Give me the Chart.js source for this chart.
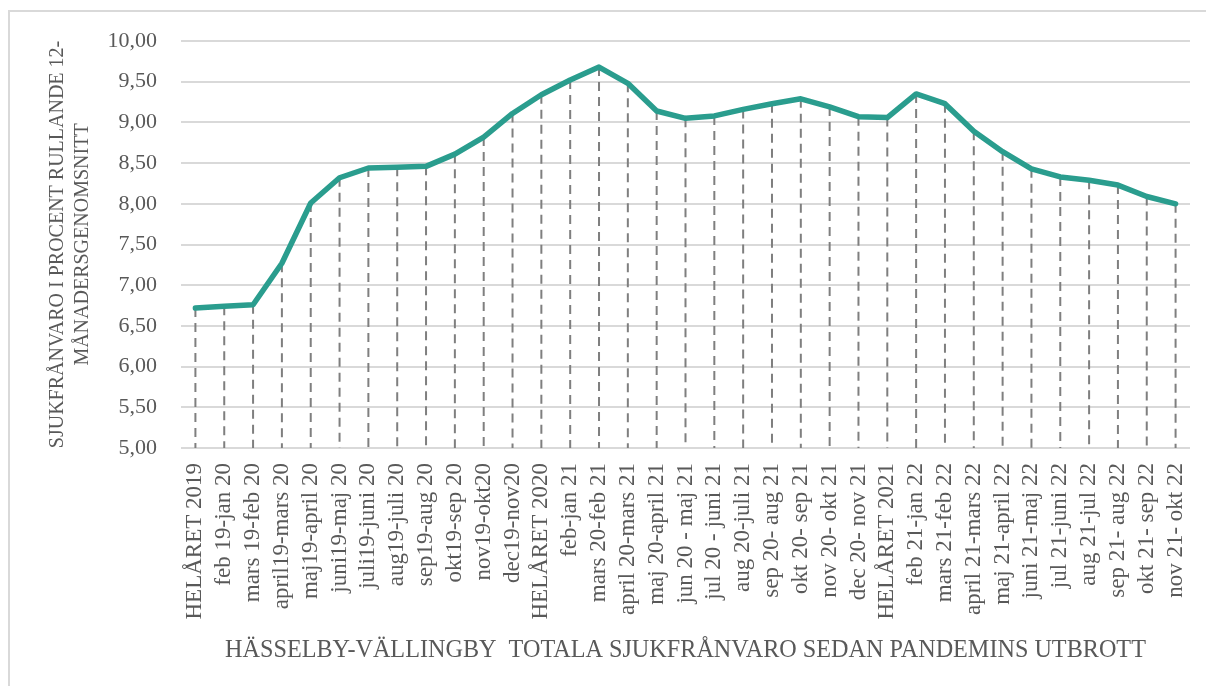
<!DOCTYPE html>
<html lang="sv">
<head>
<meta charset="utf-8">
<title>Hässelby-Vällingby total sjukfrånvaro</title>
<script src="https://cdn.jsdelivr.net/npm/chart.js@4.4.1/dist/chart.umd.min.js"></script>
<style>
  html, body { margin: 0; padding: 0; background: #ffffff; overflow: hidden; }
  #wrap { position: relative; width: 1206px; height: 686px; }
  #frame {
    position: absolute; left: 8px; top: 10px; width: 1400px; height: 900px;
    border: 2px solid #d9d9d9; box-sizing: border-box; pointer-events: none;
  }
  canvas { position: absolute; left: 0; top: 0; }
</style>
</head>
<body>
<div id="wrap">
  <div id="frame"></div>
  <canvas id="chart" width="1206" height="686"></canvas>
</div>
<script>
// Rolling 12-month sick leave periods
const periods = [
  'HELÅRET 2019', 'feb 19-jan 20', 'mars 19-feb 20', 'april19-mars 20', 'maj19-april 20',
  'juni19-maj 20', 'juli19-juni 20', 'aug19-juli 20', 'sep19-aug 20', 'okt19-sep 20',
  'nov19-okt20', 'dec19-nov20', 'HELÅRET 2020', 'feb-jan 21', 'mars 20-feb 21',
  'april 20-mars 21', 'maj 20-april 21', 'jun 20 - maj 21', 'jul 20 - juni 21', 'aug 20-juli 21',
  'sep 20- aug 21', 'okt 20- sep 21', 'nov 20- okt 21', 'dec 20- nov 21', 'HELÅRET 2021',
  'feb 21-jan 22', 'mars 21-feb 22', 'april 21-mars 22', 'maj 21-april 22', 'juni 21-maj 22',
  'jul 21-juni 22', 'aug 21-jul 22', 'sep 21- aug 22', 'okt 21- sep 22', 'nov 21- okt 22'
];

// Sick leave in percent, rolling 12-month average
const sickLeave = [
  6.72, 6.74, 6.76, 7.27, 8.01,
  8.32, 8.44, 8.45, 8.46, 8.61,
  8.82, 9.11, 9.34, 9.52, 9.68,
  9.48, 9.14, 9.05, 9.08, 9.16,
  9.23, 9.29, 9.19, 9.07, 9.06,
  9.35, 9.23, 8.89, 8.64, 8.43,
  8.33, 8.29, 8.23, 8.09, 8.00
];

const yTitleLines = ['SJUKFRÅNVARO I PROCENT RULLANDE 12-', 'MÅNADERSGENOMSNITT'];
const xTitle = 'HÄSSELBY-VÄLLINGBY  TOTALA SJUKFRÅNVARO SEDAN PANDEMINS UTBROTT';

const SERIF = "'Liberation Serif', 'Times New Roman', serif";
const TEXT = '#595959';

// Dashed drop lines from each point down to the bottom of the value axis
const dropLines = {
  id: 'dropLines',
  beforeDatasetsDraw(chart) {
    const meta = chart.getDatasetMeta(0);
    const yScale = chart.scales.y;
    const bottom = yScale.getPixelForValue(yScale.min);
    const ctx = chart.ctx;
    ctx.save();
    ctx.strokeStyle = '#7f7f7f';
    ctx.lineWidth = 2;
    ctx.setLineDash([9, 6]);
    meta.data.forEach(pt => {
      ctx.beginPath();
      ctx.moveTo(pt.x, pt.y);
      ctx.lineTo(pt.x, bottom);
      ctx.stroke();
    });
    ctx.restore();
  }
};

new Chart(document.getElementById('chart'), {
  type: 'line',
  data: {
    labels: periods,
    datasets: [{
      data: sickLeave,
      borderColor: '#2a9d8e',
      borderWidth: 5.5,
      borderCapStyle: 'round',
      borderJoinStyle: 'round',
      tension: 0,
      pointRadius: 0,
      fill: false
    }]
  },
  options: {
    responsive: false,
    animation: false,
    layout: { padding: { top: 41, right: 16, bottom: 0, left: 0 } },
    plugins: {
      legend: { display: false },
      tooltip: { enabled: false }
    },
    scales: {
      x: {
        offset: true,
        grid: { display: false, drawTicks: false },
        border: { display: false },
        afterFit(scale) {
          scale.height = 238;
          scale.paddingLeft = 0;
          scale.paddingRight = 0;
        },
        ticks: {
          autoSkip: false,
          minRotation: 90,
          maxRotation: 90,
          padding: 15,
          color: TEXT,
          font: { family: SERIF, size: 23 }
        },
        title: {
          display: true,
          text: xTitle,
          color: TEXT,
          font: { family: SERIF, size: 24.2 },
          padding: { top: 0, bottom: 21 }
        }
      },
      y: {
        min: 5,
        max: 10,
        afterFit(scale) { scale.width = 181; },
        grid: { color: '#d9d9d9', lineWidth: 2, drawTicks: false },
        border: { display: false },
        ticks: {
          stepSize: 0.5,
          padding: 24,
          color: TEXT,
          font: { family: SERIF, size: 22 },
          callback: v => Number(v).toFixed(2).replace('.', ',')
        },
        title: {
          display: true,
          text: yTitleLines,
          color: TEXT,
          font: { family: SERIF, size: 20, lineHeight: 1.25 },
          padding: { top: 45, bottom: 0 }
        }
      }
    }
  },
  plugins: [dropLines]
});
</script>
</body>
</html>
